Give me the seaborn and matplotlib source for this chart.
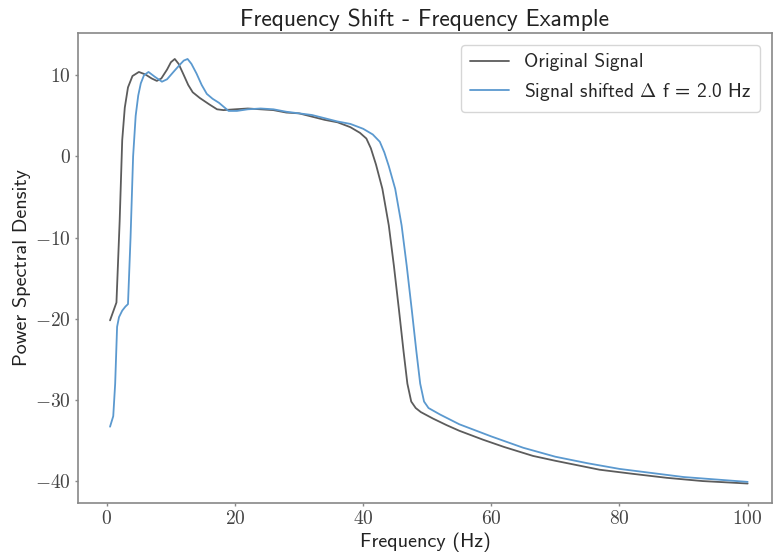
import matplotlib
matplotlib.use("Agg")
import matplotlib.pyplot as plt
import seaborn as sns
import pandas as pd

# ---- data ----
orig_freq = [0.5, 1.0, 1.5, 2.0, 2.4, 2.8, 3.3, 4.0, 5.0, 6.0, 7.0, 7.8, 8.5, 9.4,
             10.0, 10.6, 11.2, 11.9, 12.7, 13.4, 14.5, 16.0, 17.2, 18.2, 20, 22, 24,
             26, 28, 30, 32, 34, 36, 38, 39.5, 40.5, 41.2, 42, 43, 44, 44.8, 45.6,
             46.3, 46.9, 47.5, 48.2, 49.0, 50.9, 53, 55, 58.7, 62, 66.5, 70, 76.9,
             82, 87.4, 93, 100]
orig_psd = [-20.2, -19.1, -18.0, -8.0, 2.0, 6.0, 8.5, 9.9, 10.4, 10.1, 9.6, 9.3, 9.6,
            10.7, 11.6, 12.0, 11.4, 10.2, 8.8, 7.9, 7.2, 6.4, 5.8, 5.7, 5.8, 5.9, 5.8,
            5.7, 5.4, 5.3, 4.9, 4.5, 4.2, 3.6, 2.9, 2.2, 1.0, -1.0, -4.0, -8.5,
            -13.5, -19.0, -24.0, -28.0, -30.2, -31.0, -31.5, -32.3, -33.1, -33.8,
            -34.9, -35.8, -36.9, -37.5, -38.6, -39.1, -39.6, -40.0, -40.3]

shift_freq = [0.5, 1.0, 1.3, 1.6, 1.9, 2.4, 2.9, 3.3, 3.7, 4.1, 4.5, 4.9, 5.3, 5.8,
              6.5, 7.5, 8.6, 9.4, 10.5, 11.4, 12.0, 12.6, 13.2, 14.0, 14.8, 15.6,
              16.5, 17.5, 19, 20.3, 22, 24, 26, 28, 30, 32, 34, 36, 38, 40, 41.5,
              42.6, 43.3, 44, 45, 46, 46.8, 47.6, 48.3, 48.9, 49.5, 50.2, 52,
              55, 60, 65, 70, 75, 80, 85, 90, 95, 100]
shift_psd = [-33.3, -32.0, -28.0, -21.0, -19.8, -19.0, -18.5, -18.2, -10.0, 0.0, 5.0,
             7.5, 9.0, 10.0, 10.4, 9.8, 9.2, 9.5, 10.5, 11.3, 11.8, 12.0, 11.4, 10.2,
             8.8, 7.7, 7.1, 6.6, 5.6, 5.6, 5.8, 5.9, 5.8, 5.5, 5.3, 5.1, 4.7, 4.3,
             4.0, 3.4, 2.7, 1.8, 0.5, -1.2, -4.0, -8.5, -13.5, -19.0, -24.0, -28.0,
             -30.2, -31.0, -31.8, -33.0, -34.5, -35.9, -37.0, -37.8, -38.5, -39.0,
             -39.5, -39.8, -40.1]

series_labels = ["Original Signal", r"Signal shifted $\Delta$ f = 2.0 Hz"]
x_ticks = [0, 20, 40, 60, 80, 100]
y_ticks = [-40, -30, -20, -10, 0, 10]

title = "Frequency Shift - Frequency Example"
xlabel = "Frequency (Hz)"
ylabel = "Power Spectral Density"

# ---- style ----
sns.set_style("ticks")
plt.rcParams["font.family"] = ["cmss10", "DejaVu Sans"]
plt.rcParams["mathtext.fontset"] = "cm"
plt.rcParams["axes.unicode_minus"] = False

fig = plt.figure(figsize=(7.74, 5.55), dpi=100)
ax = fig.add_axes([78 / 774, 1 - 503 / 555, (772 - 78) / 774, (503 - 33) / 555])

df_o = pd.DataFrame({"f": orig_freq, "p": orig_psd})
df_s = pd.DataFrame({"f": shift_freq, "p": shift_psd})
sns.lineplot(data=df_o, x="f", y="p", ax=ax, color="#5c5c5c", lw=1.3,
             label=series_labels[0], sort=False)
sns.lineplot(data=df_s, x="f", y="p", ax=ax, color="#5b99cf", lw=1.3,
             label=series_labels[1], sort=False)

ax.set_xlim(-4.5, 103.8)
ax.set_ylim(-42.7, 15.2)
ax.set_xticks(x_ticks, [f"${t}$" for t in x_ticks])
ax.set_yticks(y_ticks, [f"${t}$" for t in y_ticks])
ax.tick_params(axis="both", labelsize=14, colors="#444444", length=2.5,
               width=1.0, color="#888888", pad=2.5)

for sp in ax.spines.values():
    sp.set_visible(True)
    sp.set_color("#888888")
    sp.set_linewidth(1.2)

ax.set_title(title, fontsize=17, color="#222222", pad=5)
ax.set_xlabel(xlabel, fontsize=14.5, color="#222222", labelpad=3)
ax.set_ylabel(ylabel, fontsize=14.5, color="#222222", labelpad=3)

leg = ax.legend(loc="upper right", fontsize=14, frameon=True, fancybox=True,
                edgecolor="#cccccc", handlelength=2.0, borderpad=0.45,
                borderaxespad=0.6)

fig.savefig("out.png", dpi=100)
